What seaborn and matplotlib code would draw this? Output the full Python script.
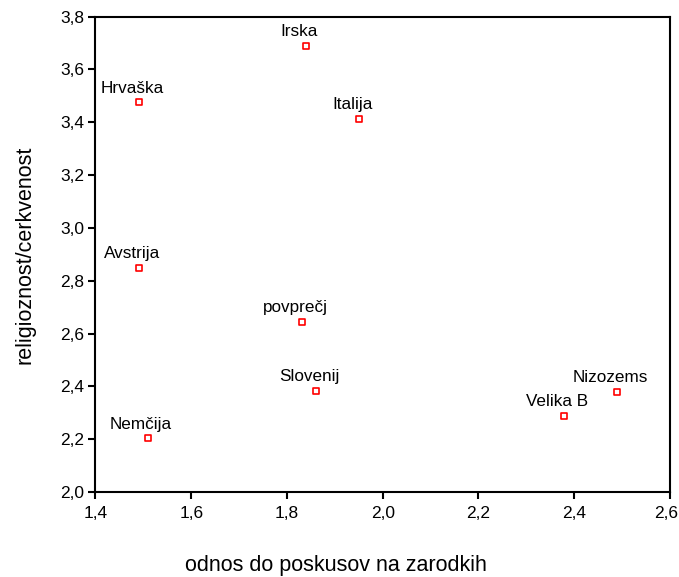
import numpy as np
import pandas as pd
import matplotlib
matplotlib.use('Agg')
import matplotlib.pyplot as plt
import matplotlib.transforms as mtransforms
import seaborn as sns

# data
countries = ['Irska', 'Hrvaška', 'Italija', 'Avstrija', 'povprečj',
             'Slovenij', 'Nemčija', 'Velika B', 'Nizozems']
odnos = [1.840, 1.491, 1.951, 1.491, 1.832, 1.861, 1.510, 2.379, 2.489]
religioznost = [3.690, 3.476, 3.412, 2.850, 2.645, 2.383, 2.203, 2.288, 2.378]

x_ticks = [1.4, 1.6, 1.8, 2.0, 2.2, 2.4, 2.6]
y_ticks = [2.0, 2.2, 2.4, 2.6, 2.8, 3.0, 3.2, 3.4, 3.6, 3.8]

df = pd.DataFrame({'drzava': countries, 'odnos': odnos, 'religioznost': religioznost})

# style
sns.set_style('white')
plt.rcParams['font.family'] = ['Liberation Sans', 'DejaVu Sans']
plt.rcParams['text.color'] = 'black'
plt.rcParams['axes.labelcolor'] = 'black'
plt.rcParams['xtick.color'] = 'black'
plt.rcParams['ytick.color'] = 'black'

fig = plt.figure(figsize=(6.79, 5.77), dpi=100)
ax = fig.add_axes([0.1406, 0.1473, 0.8461, 0.8238])

sns.scatterplot(data=df, x='odnos', y='religioznost', ax=ax, marker='s', s=24,
                color='white', edgecolor='#ff0000', linewidth=1.2, zorder=3)

# point labels above each marker
for _, row in df.iterrows():
    ax.annotate(row['drzava'], (row['odnos'], row['religioznost']),
                xytext=(-5, 7), textcoords='offset points',
                ha='center', va='baseline', fontsize=12.3, color='black')

ax.set_xlim(x_ticks[0], x_ticks[-1])
ax.set_ylim(y_ticks[0], y_ticks[-1])
ax.set_xticks(x_ticks)
ax.set_yticks(y_ticks)
ax.set_xticklabels([f'{v:.1f}'.replace('.', ',') for v in x_ticks])
ax.set_yticklabels([f'{v:.1f}'.replace('.', ',') for v in y_ticks])
ax.tick_params(axis='both', which='major', direction='out', length=5, width=1.5,
               labelsize=12.5, colors='black', pad=3)
ax.tick_params(axis='x', pad=5)
ax.tick_params(top=False, right=False, left=True, bottom=True)

# keep the last x label inside the figure, as in the original
last = ax.get_xticklabels()[-1]
last.set_transform(last.get_transform() +
                   mtransforms.ScaledTranslation(-4 / 100, 0, fig.dpi_scale_trans))

for sp in ax.spines.values():
    sp.set_visible(True)
    sp.set_color('black')
    sp.set_linewidth(1.5)

ax.set_xlabel('')
ax.set_ylabel('')
fig.text(336 / 679, 1 - 566 / 577, 'odnos do poskusov na zarodkih',
         ha='center', va='center', fontsize=15.5)
fig.text(25 / 679, 1 - 255 / 577, 'religioznost/cerkvenost',
         ha='center', va='center', rotation=90, fontsize=15.5)

fig.savefig('out.png', dpi=100, facecolor='white')
